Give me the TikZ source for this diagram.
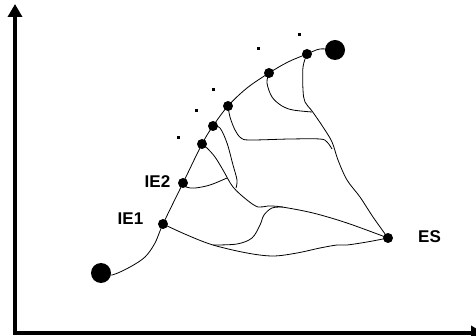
\documentclass[tikz,border=0pt]{standalone}
\usepackage{fontspec}
\setmainfont{Liberation Sans}
\usetikzlibrary{arrows.meta}
\begin{document}
\begin{tikzpicture}[x=1pt,y=-1pt,
  dotnode/.style={circle,fill=black,inner sep=0pt,minimum size=10pt},
  bigdot/.style={circle,fill=black,inner sep=0pt,minimum size=20pt},
  sqdot/.style={rectangle,fill=black,inner sep=0pt,minimum size=3pt},
  lbl/.style={font=\bfseries\fontsize{17}{17}\selectfont,inner sep=0pt},
  curve/.style={line width=0.8pt,line join=round},
  axis/.style={line width=4pt,-{Triangle[width=14pt,length=13pt]}}]
\useasboundingbox (0,0) rectangle (476,336);
% axes
\coordinate (orig) at (15,333);
\coordinate (hstart) at (13,333);
\coordinate (ytip) at (15,4);
\coordinate (xtip) at (484,333);
\draw[axis] (orig) -- (ytip);
\draw[axis] (hstart) -- (xtip);
% nodes
\node[bigdot] (sdot) at (101,273) {};
\node[bigdot] (edot) at (335,50) {};
\node[dotnode] (ie1) at (163,224) {};
\node[dotnode] (ie2) at (183,183) {};
\node[dotnode] (n3) at (202,144) {};
\node[dotnode] (n4) at (213,126) {};
\node[dotnode] (n5) at (228,106) {};
\node[dotnode] (n6) at (269,73) {};
\node[dotnode] (n7) at (307,54) {};
\node[dotnode] (es) at (388,238) {};
% small dots
\node[sqdot] (s1) at (178,138) {};
\node[sqdot] (s2) at (196,111) {};
\node[sqdot] (s3) at (213,90) {};
\node[sqdot] (s4) at (258,49) {};
\node[sqdot] (s5) at (299,35) {};
% labels
\node[lbl] (lie1) at (130.5,218.5) {IE1};
\node[lbl] (lie2) at (157.5,182) {IE2};
\node[lbl] (les) at (429.5,237) {ES};
% free ends
\coordinate (split) at (213,245);
\coordinate (bend) at (283,207);
\coordinate (dend) at (227,178);
\coordinate (eend) at (236,188);
\coordinate (fend) at (332,149);
\coordinate (gend) at (312,112);
% spine
\draw[curve] plot[smooth,tension=0.55] coordinates {(sdot) (112,275) (130,267) (145,257) (155,243) (ie1) (ie2) (n3) (n4) (n5) (247,88) (n6) (288,62) (n7) (320,49) (edot)};
% branches
\draw[curve] plot[smooth,tension=0.55] coordinates {(ie1) (187,235) (split) (247,253) (273,256) (297,253) (320,248) (337,245) (347,245) (367,242) (es)};
\draw[curve] plot[smooth,tension=0.55] coordinates {(split) (237,244) (252,238) (260,225) (264,215) (272,208) (bend)};
\draw[curve] plot[smooth,tension=0.55] coordinates {(n3) (207,148) (215,157) (223,170) (233,187) (247,200) (258,207) (268,206) (282,207) (313,213) (347,223) (es)};
\draw[curve] plot[smooth,tension=0.55] coordinates {(ie2) (186,187) (195,188) (210,185) (dend)};
\draw[curve] plot[smooth,tension=0.55] coordinates {(n4) (220,128) (227,143) (233,165) (237,180) (eend)};
\draw[curve] plot[smooth,tension=0.55] coordinates {(n5) (230,117) (235,130) (241,138) (250,140) (290,139) (320,139) (327,142) (fend)};
\draw[curve] plot[smooth,tension=0.55] coordinates {(n6) (267,83) (272,97) (282,106) (293,110) (gend)};
\draw[curve] plot[smooth,tension=0.55] coordinates {(n7) (303,67) (303,90) (305,102) (312,111) (323,127) (332,142) (338,160) (347,180) (360,197) (373,217) (es)};
\end{tikzpicture}
\end{document}
